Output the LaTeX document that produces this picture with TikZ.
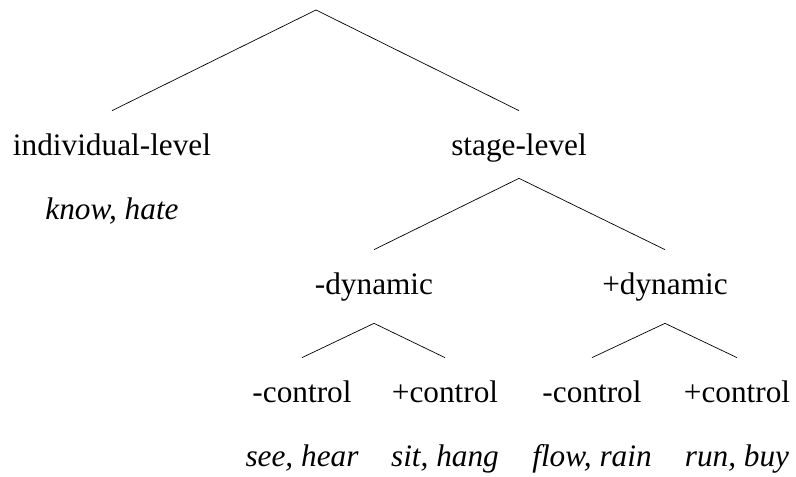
\documentclass[tikz,border=0pt]{standalone}
\usepackage{fontspec}
\setmainfont{Liberation Serif}

\begin{document}
\begin{tikzpicture}[
  cat/.style={font=\fontsize{17.8}{20}\selectfont, inner sep=0pt, text height=0.9cm, text depth=0.5cm, anchor=base},
  ex/.style={font=\fontsize{17.8}{20}\selectfont\itshape, inner sep=0pt, anchor=base}]
\useasboundingbox (0,0) rectangle (15.92,9.54);
\coordinate (root) at (6.32,9.34);
\node [cat, text depth=0.44cm] (ind) at (2.24,6.42) {individual-level};
\node [cat, text depth=0.44cm] (stage) at (10.38,6.42) {stage-level};
\node [cat, text depth=0.56cm] (mdyn) at (7.48,3.64) {-dynamic};
\node [cat, text depth=0.56cm] (pdyn) at (13.30,3.64) {+dynamic};
\node [cat] (mdmc) at (6.04,1.48) {-control};
\node [cat] (mdpc) at (8.90,1.48) {+control};
\node [cat] (pdmc) at (11.84,1.48) {-control};
\node [cat] (pdpc) at (14.74,1.48) {+control};
\node [ex] (ind-ex) at (2.24,5.14) {know, hate};
\node [ex] (mdmc-ex) at (6.04,0.20) {see, hear};
\node [ex] (mdpc-ex) at (8.90,0.20) {sit, hang};
\node [ex] (pdmc-ex) at (11.84,0.20) {flow, rain};
\node [ex] (pdpc-ex) at (14.74,0.20) {run, buy};
\draw (root) -- (ind.north);
\draw (root) -- (stage.north);
\draw (stage.south) -- (mdyn.north);
\draw (stage.south) -- (pdyn.north);
\draw (mdyn.south) -- (mdmc.north);
\draw (mdyn.south) -- (mdpc.north);
\draw (pdyn.south) -- (pdmc.north);
\draw (pdyn.south) -- (pdpc.north);
\end{tikzpicture}
\end{document}
